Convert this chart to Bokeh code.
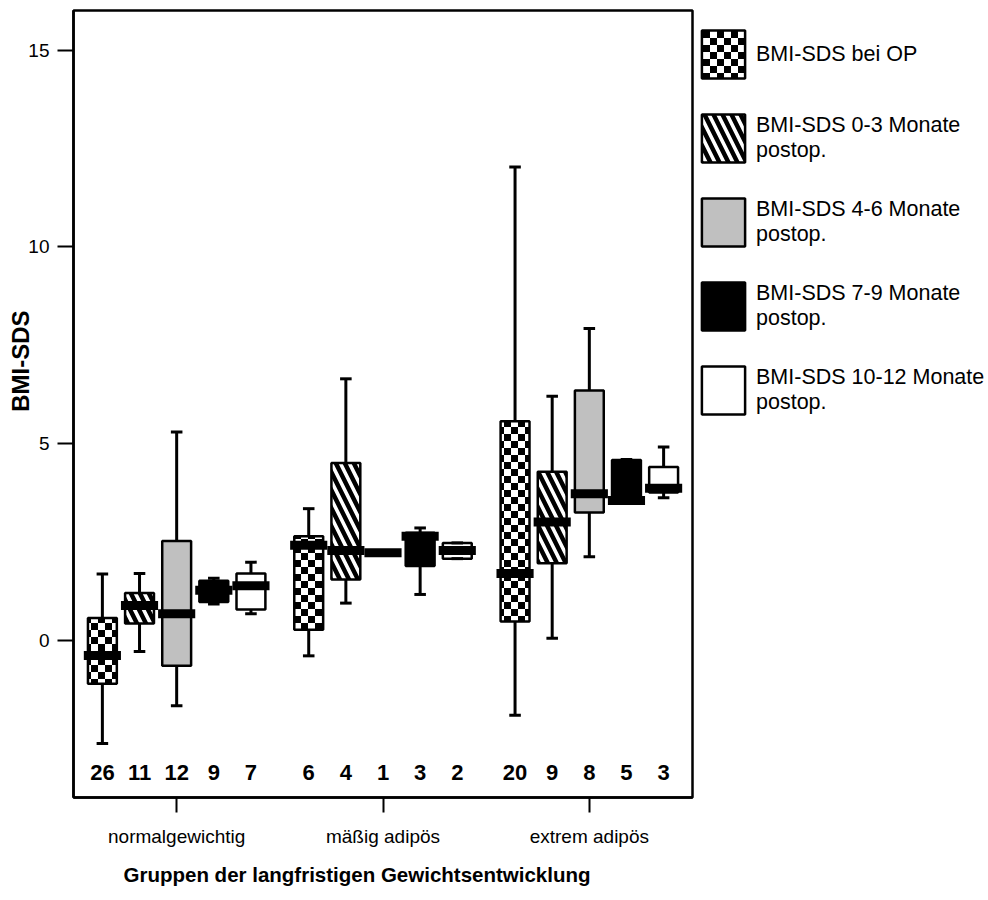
from bokeh.plotting import figure
from bokeh.models import (Range1d, FixedTicker, Legend, LegendItem, CanvasTexture,
                          Title, ColumnDataSource)
from bokeh.core.properties import value
from bokeh.embed import file_html
from bokeh.resources import INLINE

# ---------------- data ----------------
groups = ["normalgewichtig", "mäßig adipös", "extrem adipös"]
series = ["BMI-SDS bei OP",
          "BMI-SDS 0-3 Monate\npostop.",
          "BMI-SDS 4-6 Monate\npostop.",
          "BMI-SDS 7-9 Monate\npostop.",
          "BMI-SDS 10-12 Monate\npostop."]

# one list per series, values per group (normalgewichtig, mäßig adipös, extrem adipös)
op_low    = [-2.62, -0.39, -1.90]
op_q1     = [-1.10,  0.27,  0.48]
op_med    = [-0.38,  2.42,  1.70]
op_q3     = [ 0.57,  2.65,  5.57]
op_high   = [ 1.69,  3.35, 12.03]
op_n      = [26, 6, 20]

m03_low   = [-0.28, 0.95, 0.06]
m03_q1    = [ 0.43, 1.55, 1.96]
m03_med   = [ 0.89, 2.29, 3.01]
m03_q3    = [ 1.21, 4.51, 4.29]
m03_high  = [ 1.70, 6.65, 6.21]
m03_n     = [11, 4, 9]

m46_low   = [-1.66, 2.23, 2.13]
m46_q1    = [-0.64, 2.23, 3.25]
m46_med   = [ 0.68, 2.23, 3.73]
m46_q3    = [ 2.53, 2.23, 6.35]
m46_high  = [ 5.30, 2.23, 7.93]
m46_n     = [12, 1, 8]

m79_low   = [0.93, 1.17, 3.48]
m79_q1    = [0.98, 1.89, 3.48]
m79_med   = [1.28, 2.65, 3.56]
m79_q3    = [1.52, 2.74, 4.59]
m79_high  = [1.58, 2.86, 4.60]
m79_n     = [9, 3, 5]

m1012_low  = [0.68, 2.08, 3.63]
m1012_q1   = [0.79, 2.08, 3.76]
m1012_med  = [1.39, 2.29, 3.87]
m1012_q3   = [1.70, 2.48, 4.41]
m1012_high = [1.99, 2.48, 4.92]
m1012_n    = [7, 2, 3]

y_ticks = [0, 5, 10, 15]

stats = [
    (op_low, op_q1, op_med, op_q3, op_high, op_n),
    (m03_low, m03_q1, m03_med, m03_q3, m03_high, m03_n),
    (m46_low, m46_q1, m46_med, m46_q3, m46_high, m46_n),
    (m79_low, m79_q1, m79_med, m79_q3, m79_high, m79_n),
    (m1012_low, m1012_q1, m1012_med, m1012_q3, m1012_high, m1012_n),
]

# ---------------- styles ----------------
FONT = "Liberation Sans"
checker = CanvasTexture(code="""
var S = 14, h = 7;
if (ctx.canvas) { ctx.canvas.width = S; ctx.canvas.height = S; }
if (ctx.setTransform) { ctx.setTransform(1, 0, 0, 1, 0, 0); }
ctx.fillStyle = 'white';
ctx.fillRect(0, 0, S, S);
ctx.fillStyle = 'black';
ctx.fillRect(0, 0, h, h);
ctx.fillRect(h, h, h, h);
""")
styles = [
    dict(fill_color="white", hatch_pattern=value("checker"), hatch_extra={"checker": checker},
         hatch_scale=14, hatch_color="black"),
    dict(fill_color="white", hatch_pattern="left_diagonal_line", hatch_scale=18,
         hatch_weight=4.5, hatch_color="black"),
    dict(fill_color="#c0c0c0"),
    dict(fill_color="black"),
    dict(fill_color="white"),
]
spacing = 0.18
box_w = 0.14
med_half = 0.09
cap_half = 0.028
count_y = -3.35

p = figure(frame_width=619, frame_height=787, output_backend="svg", toolbar_location=None,
           title=None, x_range=Range1d(-0.5, 2.5), y_range=Range1d(-3.99, 16.01),
           min_border_left=73, min_border_top=10, min_border_right=296, min_border_bottom=0,
           background_fill_color="white", border_fill_color="white")
p.grid.visible = False
p.outline_line_color = "black"
p.outline_line_width = 2.5
p.outline_line_alpha = 1.0

legend_items = []
for i, (lo, q1, med, q3, hi, n) in enumerate(stats):
    xs = [g + (i - 2) * spacing for g in range(len(groups))]
    src = ColumnDataSource(dict(
        x=xs, lo=lo, q1=q1, med=med, q3=q3, hi=hi,
        cl=[x - cap_half for x in xs], cr=[x + cap_half for x in xs],
        ml=[x - med_half for x in xs], mr=[x + med_half for x in xs],
        n=[str(v) for v in n], ny=[count_y] * len(xs)))
    p.segment(x0="x", y0="lo", x1="x", y1="hi", source=src, line_color="black", line_width=3)
    box = p.vbar(x="x", width=box_w, bottom="q1", top="q3", source=src,
                 line_color="black", line_width=2.5, **styles[i])
    p.segment(x0="cl", y0="lo", x1="cr", y1="lo", source=src, line_color="black", line_width=3)
    p.segment(x0="cl", y0="hi", x1="cr", y1="hi", source=src, line_color="black", line_width=3)
    p.segment(x0="ml", y0="med", x1="mr", y1="med", source=src, line_color="black",
              line_width=9, line_cap="butt")
    p.text(x="x", y="ny", text="n", source=src, text_font=value(FONT), text_font_style="bold",
           text_font_size="22px", text_align="center", text_baseline="middle", text_color="black")
    legend_items.append(LegendItem(label=series[i], renderers=[box]))

# axes
xa = p.xaxis[0]
xa.ticker = FixedTicker(ticks=list(range(len(groups))))
xa.major_label_overrides = {g: name for g, name in enumerate(groups)}
xa.major_tick_out = 15
xa.major_tick_in = 0
xa.major_tick_line_width = 2
xa.minor_tick_line_color = None
xa.axis_line_width = 2.5
xa.major_label_standoff = 13
xa.major_label_text_font = FONT
xa.major_label_text_font_size = "19px"
xa.major_label_text_color = "black"

ya = p.yaxis[0]
ya.ticker = FixedTicker(ticks=y_ticks)
ya.major_tick_out = 16
ya.major_tick_in = 0
ya.major_tick_line_width = 2
ya.minor_tick_line_color = None
ya.axis_line_width = 2.5
ya.major_label_standoff = 8
ya.major_label_text_font = FONT
ya.major_label_text_font_size = "19px"
ya.major_label_text_color = "black"

# axis titles (placed as side titles so they can sit off-centre like the original)
p.add_layout(Title(text="BMI-SDS", align="right", offset=300, standoff=-16,
                   text_font=FONT, text_font_style="bold", text_font_size="24px",
                   text_color="black"), "left")
p.add_layout(Title(text="Gruppen der langfristigen Gewichtsentwicklung", align="left",
                   offset=50, standoff=22, vertical_align="bottom",
                   text_font=FONT, text_font_style="bold", text_font_size="20.5px",
                   text_color="black"), "below")

legend = Legend(items=legend_items, location=(4, 377), glyph_width=54, glyph_height=60,
                label_standoff=6, spacing=24, padding=2, margin=0,
                border_line_color=None, background_fill_alpha=0,
                label_text_font=FONT, label_text_font_size="21.5px", label_text_color="black")
p.add_layout(legend, "right")

open("out.html", "w").write(file_html(p, INLINE))
